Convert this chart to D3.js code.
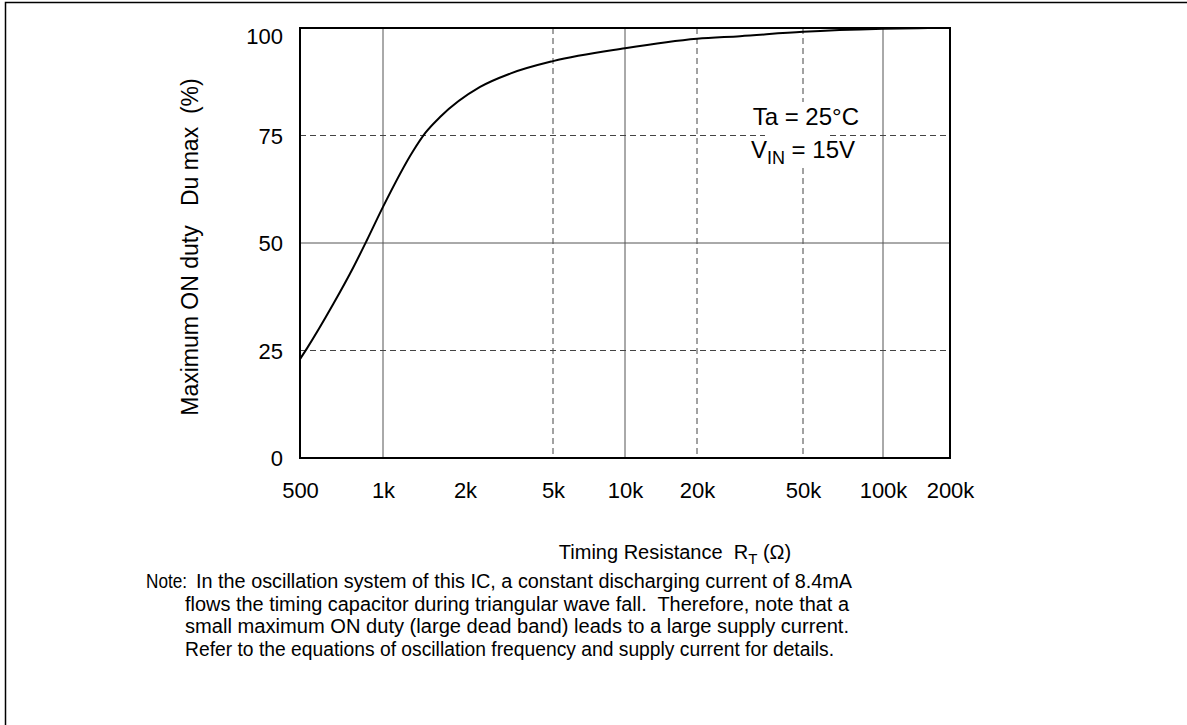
<!DOCTYPE html>
<html>
<head>
<meta charset="utf-8">
<script src="https://cdn.jsdelivr.net/npm/d3@7"></script>
<style>
  body { margin: 0; background: #fff; }
  svg text { font-family: "Liberation Sans", Arial, sans-serif; fill: #000; }
</style>
</head>
<body>
<div id="chart"></div>
<script>
// curve: timing resistance (ohm) vs max ON duty (%)
var resistance = [500, 530, 660, 780, 875, 1000, 1290, 1430, 1620, 2340, 3200, 5000, 10000, 20000, 29000, 50000, 100000, 160000];
var dutyMax    = [23.0, 25.5, 35.8, 44.3, 50.7, 58.4, 71.4, 75.6, 79.3, 86.3, 89.4, 92.3, 95.3, 97.5, 98.1, 99.1, 99.8, 100];

var xTicks = [500, 1000, 2000, 5000, 10000, 20000, 50000, 100000, 200000];
var xTickLabels = ["500", "1k", "2k", "5k", "10k", "20k", "50k", "100k", "200k"];
var yTicks = [0, 25, 50, 75, 100];

// which grid lines are solid / dashed
var xGridSolid = [1000, 10000, 100000];
var xGridDashed = [5000, 20000, 50000];
var yGridSolid = [50];
var yGridDashed = [25, 75];

var noteLines = [
  "In the oscillation system of this IC, a constant discharging current of 8.4mA",
  "flows the timing capacitor during triangular wave fall.  Therefore, note that a",
  "small maximum ON duty (large dead band) leads to a large supply current.",
  "Refer to the equations of oscillation frequency and supply current for details."
];

function drawChart() {
    var W = 1187, H = 725;
    var pLeft = 300, pRight = 950, pTop = 28, pBottom = 458;

    var svg = d3.select("#chart").append("svg")
        .attr("width", W)
        .attr("height", H);

    svg.append("rect").attr("width", W).attr("height", H).attr("fill", "#fff");

    // outer frame (only left + top visible in the picture)
    svg.append("path")
        .attr("d", "M5.5," + H + "V2.5H" + W)
        .attr("fill", "none")
        .attr("stroke", "#000")
        .attr("stroke-width", 1.5);

    // the drawing is not exactly logarithmic, so the scale is piecewise
    var x = d3.scaleLog()
        .domain(xTicks)
        .range([300, 383, 465, 553, 625, 697, 803, 883, 950]);

    var y = d3.scaleLinear()
        .domain([0, 100])
        .range([pBottom, pTop]);

    var grid = svg.append("g");

    grid.selectAll(".vs").data(xGridSolid).enter().append("line")
        .attr("x1", function(d) { return x(d); })
        .attr("x2", function(d) { return x(d); })
        .attr("y1", pTop).attr("y2", pBottom)
        .attr("stroke", "#555").attr("stroke-width", 1);

    grid.selectAll(".vd").data(xGridDashed).enter().append("line")
        .attr("x1", function(d) { return x(d); })
        .attr("x2", function(d) { return x(d); })
        .attr("y1", pTop).attr("y2", pBottom)
        .attr("stroke", "#444").attr("stroke-width", 1)
        .attr("stroke-dasharray", "6,4");

    grid.selectAll(".hs").data(yGridSolid).enter().append("line")
        .attr("y1", function(d) { return y(d); })
        .attr("y2", function(d) { return y(d); })
        .attr("x1", pLeft).attr("x2", pRight)
        .attr("stroke", "#555").attr("stroke-width", 1);

    grid.selectAll(".hd").data(yGridDashed).enter().append("line")
        .attr("y1", function(d) { return y(d); })
        .attr("y2", function(d) { return y(d); })
        .attr("x1", pLeft).attr("x2", pRight)
        .attr("stroke", "#444").attr("stroke-width", 1)
        .attr("stroke-dasharray", "6,4");

    // curve
    var pts = resistance.map(function(r, i) { return {r: r, d: dutyMax[i]}; });
    var line = d3.line()
        .x(function(d) { return x(d.r); })
        .y(function(d) { return y(d.d); })
        .curve(d3.curveMonotoneX);

    svg.append("path")
        .datum(pts)
        .attr("d", line)
        .attr("fill", "none")
        .attr("stroke", "#000")
        .attr("stroke-width", 2);

    // plot frame
    svg.append("rect")
        .attr("x", pLeft).attr("y", pTop)
        .attr("width", pRight - pLeft).attr("height", pBottom - pTop)
        .attr("fill", "none")
        .attr("stroke", "#000")
        .attr("stroke-width", 2);

    // x axis labels
    var xAxis = svg.append("g")
        .attr("transform", "translate(0," + pBottom + ")")
        .call(d3.axisBottom(x).tickValues(xTicks).tickSize(0).tickPadding(24)
            .tickFormat(function(d, i) { return xTickLabels[i]; }));
    xAxis.select(".domain").remove();
    xAxis.selectAll("text")
        .attr("fill", "#000")
        .style("font-size", "22px")
        .style("font-family", "Liberation Sans, Arial, sans-serif");

    // y axis labels
    var yAxis = svg.append("g")
        .attr("transform", "translate(" + pLeft + ",0)")
        .call(d3.axisLeft(y).tickValues(yTicks).tickSize(0).tickPadding(17));
    yAxis.select(".domain").remove();
    yAxis.selectAll("text")
        .attr("fill", "#000")
        .style("font-size", "22px")
        .style("font-family", "Liberation Sans, Arial, sans-serif")
        .attr("dy", function(d) { return d === 100 ? "0.72em" : "0.35em"; });

    // axis titles
    var xt = svg.append("text")
        .attr("x", 675).attr("y", 559)
        .attr("text-anchor", "middle")
        .style("font-size", "20px")
        .style("white-space", "pre");
    xt.append("tspan").text("Timing Resistance  R");
    xt.append("tspan").attr("dy", 5).style("font-size", "15px").text("T");
    xt.append("tspan").attr("dy", -5).text(" (\u03A9)");

    svg.append("text")
        .attr("transform", "translate(198,247) rotate(-90)")
        .attr("text-anchor", "middle")
        .style("font-size", "23px")
        .style("white-space", "pre")
        .text("Maximum ON duty   Du max  (%)");

    // condition note in the plot, with white patch breaking the grid lines
    svg.append("rect")
        .attr("x", 765).attr("y", 102)
        .attr("width", 62).attr("height", 65)
        .attr("fill", "#fff");

    svg.append("text")
        .attr("x", 859).attr("y", 125)
        .attr("text-anchor", "end")
        .style("font-size", "24px")
        .text("Ta = 25\u00B0C");

    var vin = svg.append("text")
        .attr("x", 855).attr("y", 158)
        .attr("text-anchor", "end")
        .style("font-size", "24px");
    vin.append("tspan").text("V");
    vin.append("tspan").attr("dy", 6).style("font-size", "18px").text("IN");
    vin.append("tspan").attr("dy", -6).text(" = 15V");

    // note under the chart
    var noteY0 = 588, noteStep = 22.7;
    var noteX = [196, 185, 185, 185];
    var noteEnd = [852, 849, 849, 834];
    svg.append("text")
        .attr("x", 146).attr("y", noteY0)
        .attr("textLength", 41)
        .attr("lengthAdjust", "spacingAndGlyphs")
        .style("font-size", "20px")
        .text("Note:");

    svg.selectAll(".note").data(noteLines).enter().append("text")
        .attr("x", function(d, i) { return noteX[i]; })
        .attr("y", function(d, i) { return noteY0 + i * noteStep; })
        .attr("textLength", function(d, i) { return noteEnd[i] - noteX[i]; })
        .attr("lengthAdjust", "spacingAndGlyphs")
        .style("font-size", "20px")
        .style("white-space", "pre")
        .text(function(d) { return d; });
}

drawChart();
</script>
</body>
</html>
